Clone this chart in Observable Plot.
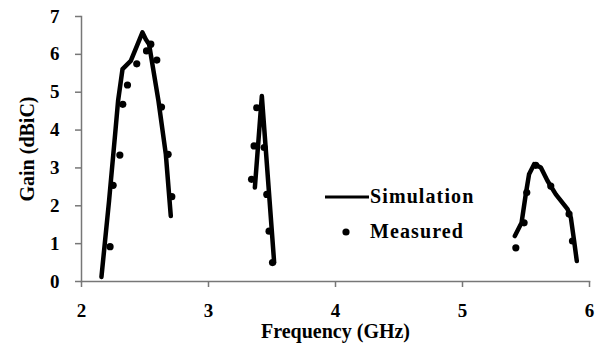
<!DOCTYPE html>
<html>
<head>
<meta charset="utf-8">
<script src="https://cdn.jsdelivr.net/npm/d3@7"></script>
<script src="https://cdn.jsdelivr.net/npm/@observablehq/plot@0.6"></script>
<style>
  html, body { margin: 0; padding: 0; background: #fff; }
  #wrap { position: relative; width: 598px; height: 348px; }
  #legend { position: absolute; left: 325px; top: 179px; font-family: "Liberation Serif", serif; font-weight: bold; font-size: 20px; letter-spacing: 1.1px; color: #000; }
  #legend .row { display: flex; align-items: center; height: 35px; }
  #legend svg { display: block; }
</style>
</head>
<body>
<div id="wrap"></div>
<script>
// Simulation (solid line), three bands
const simBand1Freq = [2.157, 2.217, 2.265, 2.288, 2.323, 2.388, 2.480, 2.506, 2.532, 2.606, 2.664, 2.703];
const simBand1Gain = [0.12, 2.13, 3.90, 4.77, 5.61, 5.83, 6.58, 6.40, 6.27, 4.77, 3.36, 1.73];
const simBand2Freq = [3.365, 3.420, 3.517];
const simBand2Gain = [2.48, 4.90, 0.50];
const simBand3Freq = [5.412, 5.465, 5.498, 5.524, 5.564, 5.617, 5.669, 5.735, 5.827, 5.853, 5.879, 5.900];
const simBand3Gain = [1.20, 1.55, 2.30, 2.83, 3.10, 3.01, 2.66, 2.30, 1.91, 1.69, 1.07, 0.54];

// Measured (dots)
const measFreq = [2.225, 2.249, 2.302, 2.325, 2.362, 2.435, 2.512, 2.546, 2.593, 2.630, 2.682, 2.711,
                  3.339, 3.359, 3.380, 3.438, 3.459, 3.477, 3.504,
                  5.420, 5.485, 5.506, 5.577, 5.695, 5.839, 5.866];
const measGain = [0.92, 2.54, 3.34, 4.68, 5.19, 5.75, 6.09, 6.27, 5.85, 4.61, 3.36, 2.24,
                  2.70, 3.58, 4.59, 3.54, 2.30, 1.33, 0.50,
                  0.89, 1.55, 2.35, 3.07, 2.52, 1.78, 1.07];

const xTicks = [2, 3, 4, 5, 6];
const yTicks = [0, 1, 2, 3, 4, 5, 6, 7];
const xLabel = "Frequency (GHz)";
const yLabel = "Gain (dBiC)";
const seriesNames = ["Simulation", "Measured"];

const sim = [];
[[simBand1Freq, simBand1Gain], [simBand2Freq, simBand2Gain], [simBand3Freq, simBand3Gain]].forEach(([f, g], b) => {
  f.forEach((v, i) => sim.push({band: b, freq: v, gain: g[i]}));
});
const meas = measFreq.map((v, i) => ({freq: v, gain: measGain[i]}));

const font = "'Liberation Serif', 'Times New Roman', serif";
const axisColor = "#777";

const chart = Plot.plot({
  width: 598,
  height: 348,
  marginLeft: 81,
  marginRight: 9,
  marginTop: 16,
  marginBottom: 67,
  x: {domain: [2, 6]},
  y: {domain: [0, 7]},
  style: {fontFamily: font, fontWeight: "bold", fontSize: "16px", color: "#000", background: "#fff"},
  marks: [
    Plot.frame({anchor: "left", stroke: axisColor, strokeWidth: 1.5}),
    Plot.frame({anchor: "bottom", stroke: axisColor, strokeWidth: 1.5}),
    Plot.axisY({ticks: yTicks, tickFormat: d3.format("d"), tickSize: 6, tickPadding: 16, label: null, stroke: axisColor, strokeWidth: 1.5, fill: "#000", fontSize: 19, fontWeight: "bold"}),
    Plot.axisX({ticks: xTicks, tickFormat: d3.format("d"), tickSize: 6, tickPadding: 16, label: null, stroke: axisColor, strokeWidth: 1.5, fill: "#000", fontSize: 19, fontWeight: "bold"}),
    Plot.text([yLabel], {frameAnchor: "left", rotate: -90, dx: -54, fontSize: 20, fontWeight: "bold", fill: "#000", textAnchor: "middle", lineAnchor: "middle", ariaLabel: "ylabel"}),
    Plot.text([xLabel], {frameAnchor: "bottom", dy: 50, fontSize: 20, fontWeight: "bold", fill: "#000", textAnchor: "middle", lineAnchor: "middle", ariaLabel: "xlabel"}),
    Plot.line(sim, {x: "freq", y: "gain", z: "band", stroke: "#000", strokeWidth: 4.5, strokeLinejoin: "round", strokeLinecap: "round", curve: "linear"}),
    Plot.dot(meas, {x: "freq", y: "gain", r: 3.6, fill: "#000", stroke: "none"})
  ]
});

// slightly widen the axis titles, as in the reference
d3.select(chart).selectAll('g[aria-label="xlabel"] text').style("letter-spacing", "1.1px");
d3.select(chart).selectAll('g[aria-label="ylabel"] text').style("letter-spacing", "0.9px");

const wrap = document.getElementById("wrap");
wrap.appendChild(chart);

const legend = document.createElement("div");
legend.id = "legend";
legend.innerHTML = `
  <div class="row"><svg width="44" height="10"><line x1="0" x2="44" y1="5" y2="5" stroke="#000" stroke-width="3"/></svg><span style="margin-left:1px">${seriesNames[0]}</span></div>
  <div class="row"><svg width="44" height="10"><circle cx="21" cy="5" r="3.6" fill="#000"/></svg><span style="margin-left:1px">${seriesNames[1]}</span></div>`;
wrap.appendChild(legend);
</script>
</body>
</html>
